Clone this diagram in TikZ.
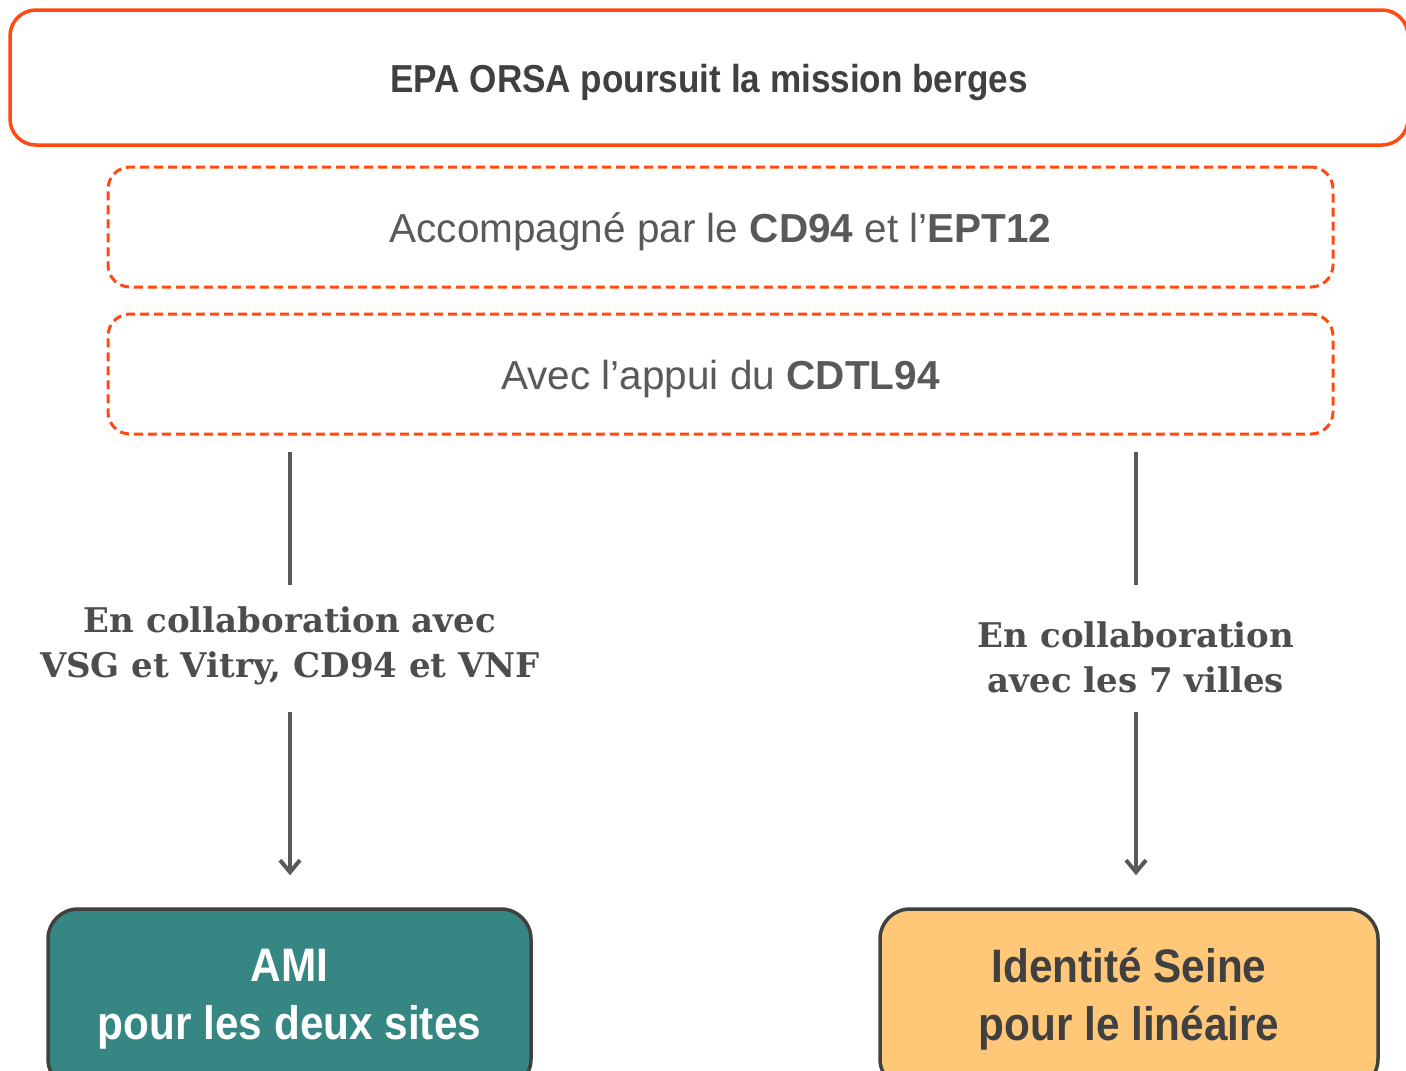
\documentclass[tikz,border=0pt]{standalone}
\usepackage{fontspec}
\usetikzlibrary{arrows.meta}
\newfontfamily\nsans[FakeStretch=0.9]{Liberation Sans}
\newfontfamily\wsans{Liberation Sans}
\newfontfamily\gser{DejaVu Serif}
\definecolor{orsa}{HTML}{FF4A12}
\definecolor{teal}{HTML}{368784}
\definecolor{sand}{HTML}{FFC878}
\definecolor{dk}{HTML}{404040}
\definecolor{md}{HTML}{595959}
\definecolor{lb}{HTML}{4D4D4D}
\newcommand{\lowr}[1]{\raisebox{-5pt}[\height][\depth]{#1}}
\begin{document}
\begin{tikzpicture}[x=1pt,y=-1pt,
  topbox/.style={draw=orsa,line width=3.5pt,rounded corners=26pt,inner sep=0pt,
    font=\nsans\bfseries\fontsize{39}{44}\selectfont,text=dk},
  dbox/.style={draw=orsa,line width=3pt,rounded corners=22pt,dash pattern=on 9pt off 5pt,
    minimum width=1225pt,minimum height=120pt,inner sep=0pt,
    font=\wsans\fontsize{40.5}{44}\selectfont,text=md},
  lab/.style={align=center,inner sep=0pt,font=\gser\bfseries\fontsize{34}{45}\selectfont,text=lb},
  endbox/.style={line width=3.5pt,draw=dk,rounded corners=30pt,minimum height=180pt,
    inner sep=0pt,align=center,font=\nsans\bfseries\fontsize{47}{58}\selectfont},
  conn/.style={draw=md,line width=4pt},
  arr/.style={conn,-{Straight Barb[length=12pt,width=20pt,line width=4pt]}}
]
\useasboundingbox (0,0) rectangle (1406,1071);
\clip (0,0) rectangle (1406,1071);
\node[topbox,minimum width=1398pt,minimum height=135pt] (epa) at (709,77.5) {\lowr{EPA ORSA poursuit la mission berges}};
\node[dbox] (acc) at (720.5,227) {\lowr{Accompagné par le \textbf{CD94} et l’\textbf{EPT12}}};
\node[dbox] (app) at (720.5,374) {\lowr{Avec l’appui du \textbf{CDTL94}}};
\node[lab] (lab1) at (290,646) {En collaboration avec\\VSG et Vitry, CD94 et VNF};
\node[lab] (lab2) at (1136,657) {En collaboration\\avec les 7 villes};
\node[endbox,fill=teal,text=white,minimum width=483pt] (ami) at (289.5,999) {AMI\\pour les deux sites};
\node[endbox,fill=sand,text=dk,minimum width=498pt] (ids) at (1129,999) {Identité Seine\\pour le linéaire};
\coordinate (j1) at (290,585);
\coordinate (k1) at (290,712);
\coordinate (j2) at (1136,585);
\coordinate (k2) at (1136,712);
\draw[conn,shorten <=16pt] (app.south -| j1) -- (j1);
\draw[conn,shorten <=16pt] (app.south -| j2) -- (j2);
\draw[arr,shorten >=32pt] (k1) -- (ami.north -| k1);
\draw[arr,shorten >=32pt] (k2) -- (ids.north -| k2);
\end{tikzpicture}
\end{document}
